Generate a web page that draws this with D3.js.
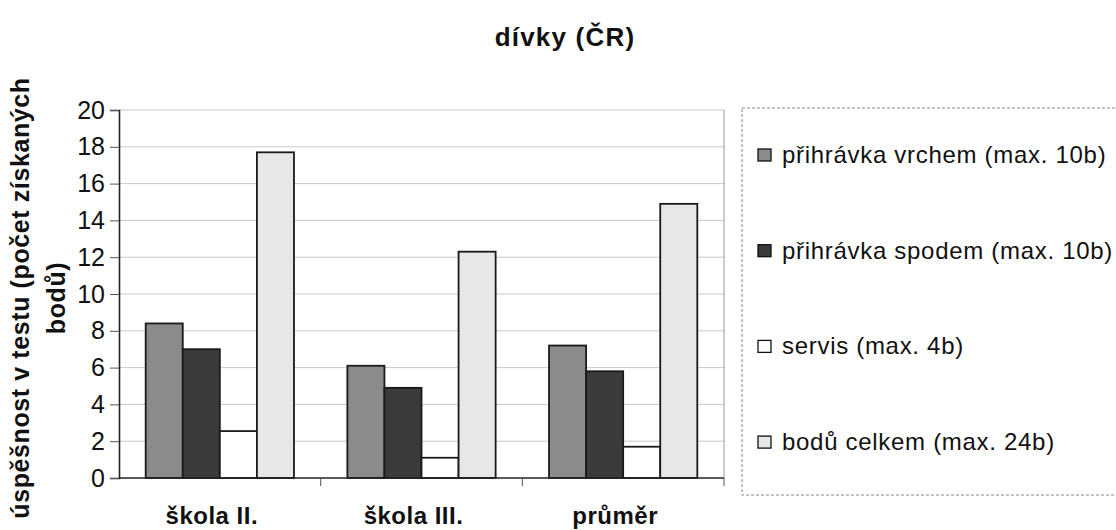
<!DOCTYPE html>
<html lang="cs">
<head>
	<meta charset="utf-8">
	<script src="https://d3js.org/d3.v7.min.js"></script>
	<style>
		body{ margin:0; background:#fff; }
		text{ font-family:"Liberation Sans", Arial, sans-serif; fill:#111; }
		.grid line{ stroke:#c9c9c9; stroke-width:1px; }
		.bar{ stroke:#1a1a1a; stroke-width:1.8px; }
	</style>
</head>
<body>
	<script>
		var categories = ["škola II.", "škola III.", "průměr"];
		var series = ["přihrávka vrchem (max. 10b)", "přihrávka spodem (max. 10b)", "servis (max. 4b)", "bodů celkem (max. 24b)"];
		var colors = ["#8b8b8b", "#3b3b3b", "#ffffff", "#e7e7e7"];
		var vrchem = [8.4, 6.1, 7.2];
		var spodem = [7.0, 4.9, 5.8];
		var servis = [2.55, 1.1, 1.7];
		var celkem = [17.7, 12.3, 14.9];
		var yTicks = [0, 2, 4, 6, 8, 10, 12, 14, 16, 18, 20];

		var width = 1116, height = 530;
		var plotLeft = 119, plotRight = 724, plotTop = 110, plotBottom = 478;

		var values = [vrchem, spodem, servis, celkem];

		var svg = d3.select("body").append("svg")
			.attr("width", width)
			.attr("height", height);

		var x0 = d3.scaleBand().domain(categories).range([plotLeft, plotRight]);
		var x1 = d3.scaleBand().domain(d3.range(series.length))
			.range([0, x0.bandwidth()]).paddingOuter(0.72).paddingInner(0);
		var y = d3.scaleLinear().domain([0, 20]).range([plotBottom, plotTop]);

		// gridlines
		svg.append("g").attr("class", "grid")
			.selectAll("line")
			.data(yTicks.slice(1))
			.enter().append("line")
			.attr("x1", plotLeft).attr("x2", plotRight)
			.attr("y1", function(d){ return y(d); })
			.attr("y2", function(d){ return y(d); });

		// plot frame right side
		svg.append("line")
			.attr("x1", plotRight).attr("x2", plotRight)
			.attr("y1", plotTop).attr("y2", plotBottom)
			.attr("stroke", "#9a9a9a");

		// bars
		var groups = svg.append("g").selectAll("g")
			.data(categories)
			.enter().append("g")
			.attr("transform", function(d){ return "translate(" + x0(d) + ",0)"; });

		groups.selectAll("rect")
			.data(function(d, i){
				return values.map(function(s, j){ return {s: j, v: s[i]}; });
			})
			.enter().append("rect")
			.attr("class", "bar")
			.attr("x", function(d){ return x1(d.s); })
			.attr("width", x1.bandwidth())
			.attr("y", function(d){ return y(d.v); })
			.attr("height", function(d){ return y(0) - y(d.v); })
			.attr("fill", function(d){ return colors[d.s]; })
			.attr("stroke-width", function(d){ return d.s == 2 ? 1.3 : 1.8; });

		// y axis
		var yAxis = svg.append("g")
			.attr("transform", "translate(" + plotLeft + ",0)")
			.call(d3.axisLeft(y).tickValues(yTicks).tickSize(9).tickPadding(5));
		yAxis.attr("font-size", 25).attr("font-family", null);
		yAxis.select(".domain").attr("stroke", "#222").attr("stroke-width", 1.6);
		yAxis.selectAll(".tick line").attr("stroke", "#555");
		yAxis.selectAll("text").attr("fill", "#111").style("font-size", "25px");

		// x axis (ticks between categories)
		var xAxis = svg.append("g").attr("transform", "translate(0," + plotBottom + ")");
		xAxis.append("line")
			.attr("x1", plotLeft).attr("x2", plotRight)
			.attr("stroke", "#222").attr("stroke-width", 1.6);
		xAxis.selectAll(".sep")
			.data(categories)
			.enter().append("line")
			.attr("x1", function(d){ return x0(d) + x0.bandwidth(); })
			.attr("x2", function(d){ return x0(d) + x0.bandwidth(); })
			.attr("y1", 0).attr("y2", 8)
			.attr("stroke", "#555");
		xAxis.selectAll("text")
			.data(categories)
			.enter().append("text")
			.attr("x", function(d){ return x0(d) + x0.bandwidth() / 2 - 8; })
			.attr("y", 46)
			.attr("text-anchor", "middle")
			.style("font-size", "24px")
			.style("font-weight", "bold")
			.style("letter-spacing", "0.5px")
			.text(function(d){ return d; });

		// title
		svg.append("text")
			.attr("x", 565).attr("y", 46)
			.attr("text-anchor", "middle")
			.style("font-size", "26px")
			.style("font-weight", "bold")
			.style("letter-spacing", "1.2px")
			.text("dívky (ČR)");

		// y label
		var yl = svg.append("text")
			.attr("transform", "translate(0,298) rotate(-90)")
			.attr("text-anchor", "middle")
			.style("font-size", "25px")
			.style("font-weight", "bold")
			.style("letter-spacing", "0.6px");
		yl.append("tspan").attr("x", 0).attr("y", 29).text("úspěšnost v testu (počet získaných");
		yl.append("tspan").attr("x", 0).attr("y", 65).text("bodů)");

		// legend
		var legend = svg.append("g");
		legend.append("rect")
			.attr("x", 742).attr("y", 108)
			.attr("width", 400).attr("height", 387)
			.attr("fill", "none")
			.attr("stroke", "#8a8a8a")
			.attr("stroke-dasharray", "3,2");

		var item = legend.selectAll(".item")
			.data(series)
			.enter().append("g")
			.attr("transform", function(d, i){ return "translate(758," + (155 + i * 95.7) + ")"; });
		item.append("rect")
			.attr("x", 0).attr("y", -6)
			.attr("width", 13).attr("height", 12)
			.attr("fill", function(d, i){ return colors[i]; })
			.attr("stroke", "#111").attr("stroke-width", 1.3);
		item.append("text")
			.attr("x", 24).attr("y", 8)
			.style("font-size", "24px")
			.style("letter-spacing", "0.7px")
			.text(function(d){ return d; });
	</script>
</body>
</html>
